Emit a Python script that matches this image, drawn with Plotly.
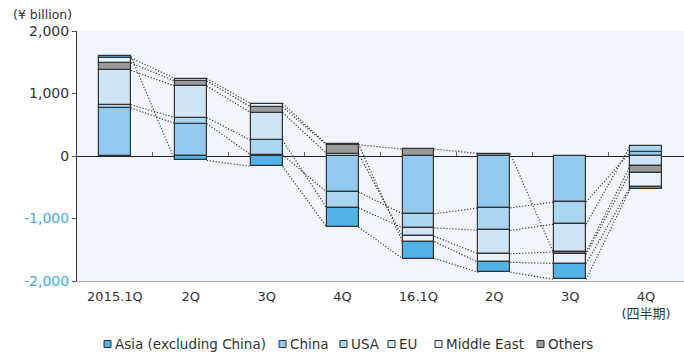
import plotly.graph_objects as go

# Quarterly values, ¥ billion (stacking order: China, USA, EU, Others, Middle East, Asia)
quarters = ["2015.1Q", "2Q", "3Q", "4Q", "16.1Q", "2Q", "3Q", "4Q<br>(四半期)"]
china = [770, 520, 20, -575, -925, -830, -735, 60]
usa = [50, 95, 230, -255, -225, -360, -355, 95]
eu = [550, 505, 445, 40, -135, -375, -445, -160]
others = [120, 80, 90, 140, 110, 40, -40, -105]
middle_east = [80, 40, 55, 10, -85, -135, -145, -235]
asia = [25, -70, -165, -305, -270, -160, -255, -30]

y_ticks = [-2000, -1000, 0, 1000, 2000]
y_labels = ["-2,000", "-1,000", "0", "1,000", "2,000"]

series = [
    ("China", china, "#93c9ef"),
    ("USA", usa, "#aad6f3"),
    ("EU", eu, "#cfe5f7"),
    ("Others", others, "#9a9a9a"),
    ("Middle East", middle_east, "#e9f2fc"),
    ("Asia (excluding China)", asia, "#4fb3e8"),
]
legend_order = ["Asia (excluding China)", "China", "USA", "EU", "Middle East", "Others"]

W, H = 684, 357
ML, MR, MT, MB = 77, 0, 31, 76
PW, PH = W - ML - MR, H - MT - MB
BAR_W = 0.42
FONT = "DejaVu Sans, Noto Sans CJK JP, sans-serif"

xs = list(range(len(quarters)))
fig = go.Figure()

# stacked segments
for name, vals, color in series:
    fig.add_trace(go.Bar(
        x=xs, y=vals, name=name, width=BAR_W,
        marker=dict(color=color, line=dict(color="#333333", width=1.2)),
        showlegend=False, hoverinfo="name+y",
    ))

# series lines joining the end of each segment between neighbouring bars
pos_cum = [0] * len(xs)
neg_cum = [0] * len(xs)
ends = []
for name, vals, color in series:
    e = []
    for i, v in enumerate(vals):
        if v >= 0:
            pos_cum[i] += v
            e.append(pos_cum[i])
        else:
            neg_cum[i] += v
            e.append(neg_cum[i])
    ends.append(e)

for e in ends:
    lx, ly = [], []
    for i in range(len(xs) - 1):
        lx += [xs[i] + BAR_W / 2, xs[i + 1] - BAR_W / 2, None]
        ly += [e[i], e[i + 1], None]
    fig.add_trace(go.Scatter(
        x=lx, y=ly, mode="lines", showlegend=False, hoverinfo="skip",
        line=dict(color="#3c3c3c", width=1.2, dash="1.2px,1.8px"),
    ))

# carrier for the category-boundary ticks on the zero line
fig.add_trace(go.Scatter(x=[], y=[], xaxis="x2", showlegend=False, hoverinfo="skip"))

neg_color = "#4aa8df"
tick_text = [
    f'<span style="color:{neg_color}">{t}</span>' if v < 0 else t
    for v, t in zip(y_ticks, y_labels)
]


def px_x(p):
    return (p - ML) / PW


def px_y(p):
    return (H - MB - p) / PH


shapes = []
annotations = [
    dict(text="(¥ billion)", xref="paper", yref="paper", x=px_x(42), y=px_y(15),
         xanchor="center", yanchor="middle", showarrow=False,
         font=dict(size=12.5, color="#333333", family=FONT)),
]

# legend row
legend_pos = {
    "Asia (excluding China)": 104,
    "China": 279,
    "USA": 340,
    "EU": 388,
    "Middle East": 435,
    "Others": 537,
}
colors = {n: c for n, _, c in series}
for name in legend_order:
    bx = legend_pos[name]
    shapes.append(dict(
        type="rect", xref="paper", yref="paper",
        x0=px_x(bx), x1=px_x(bx + 7), y0=px_y(347.5), y1=px_y(340.5),
        fillcolor=colors[name], line=dict(color="#333333", width=1),
    ))
    annotations.append(dict(
        text=name, xref="paper", yref="paper", x=px_x(bx + 9), y=px_y(344),
        xanchor="left", yanchor="middle", showarrow=False,
        font=dict(size=13.5, color="#333333", family=FONT),
    ))

fig.update_layout(
    width=W, height=H,
    margin=dict(l=ML, r=MR, t=MT, b=MB, pad=0),
    barmode="relative",
    bargap=0,
    paper_bgcolor="white",
    plot_bgcolor="#f2f6fc",
    font=dict(family=FONT, size=13, color="#333333"),
    showlegend=False,
    xaxis=dict(
        range=[-0.5, len(xs) - 0.5], tickvals=xs, ticktext=quarters,
        showgrid=False, zeroline=False, showline=True, linecolor="#a8a8a8",
        linewidth=1, ticks="", tickfont=dict(size=13, color="#333333"),
        ticklabelstandoff=3, fixedrange=True,
    ),
    xaxis2=dict(
        overlaying="x", anchor="free", position=0.5,
        range=[-0.5, len(xs) - 0.5], tickvals=[i + 0.5 for i in xs[:-1]],
        ticks="inside", ticklen=4, tickcolor="#666666", tickwidth=1,
        showticklabels=False, showgrid=False, zeroline=False, showline=False,
    ),
    yaxis=dict(
        range=[-2000, 2000], tickvals=y_ticks, ticktext=tick_text,
        showgrid=False, zeroline=True, zerolinecolor="#222222", zerolinewidth=1.3,
        showline=True, linecolor="#333333", linewidth=1,
        ticks="outside", ticklen=4, tickcolor="#555555",
        tickfont=dict(size=14, color="#333333"), fixedrange=True,
    ),
    shapes=shapes,
    annotations=annotations,
)

fig.write_html("out.html")
